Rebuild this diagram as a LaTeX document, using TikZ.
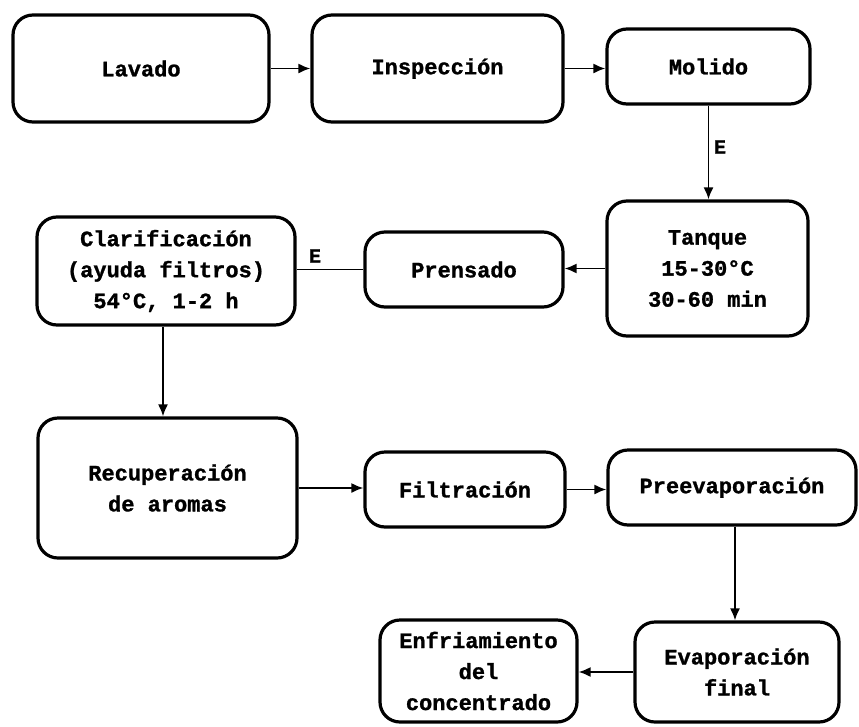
\documentclass[tikz,border=0pt]{standalone}
\usepackage{fontspec}
\setmonofont[BoldFeatures={FakeBold=1.2}]{Liberation Mono}
\usetikzlibrary{arrows.meta}
\begin{document}
\begin{tikzpicture}[x=1pt,y=-1pt,
  stage/.style={draw, line width=3.2pt, rounded corners=20pt, inner sep=0pt,
    align=center, font=\ttfamily\bfseries\fontsize{22}{31}\selectfont},
  flow/.style={line width=1.8pt, -{Latex[length=12pt,width=10pt]}},
  link/.style={line width=1.8pt},
  tag/.style={font=\ttfamily\bfseries\fontsize{20}{24}\selectfont, inner sep=0pt}]
\useasboundingbox (0,0) rectangle (859,726);

% process stages
\node[stage, minimum width=256pt, minimum height=107pt] (lav)  at (141,68.5)   {Lavado};
\node[stage, minimum width=251pt, minimum height=107pt] (insp) at (437.5,68.5) {Inspección};
\node[stage, minimum width=203pt, minimum height=75pt]  (mol)  at (708.5,66.5) {Molido};
\node[stage, minimum width=201pt, minimum height=135pt] (tan)  at (707.5,268.5) {Tanque\\15-30°C\\30-60 min};
\node[stage, minimum width=198pt, minimum height=75pt]  (pren) at (464,269.5)  {Prensado};
\node[stage, minimum width=258pt, minimum height=108pt] (clar) at (166,271)    {Clarificación\\(ayuda filtros)\\54°C, 1-2 h};
\node[stage, minimum width=259pt, minimum height=140pt] (rec)  at (167.5,488)  {Recuperación\\de aromas};
\node[stage, minimum width=200pt, minimum height=75pt]  (fil)  at (465,489.5)  {Filtración};
\node[stage, minimum width=248pt, minimum height=75pt]  (pre)  at (732,487.5)  {Preevaporación};
\node[stage, minimum width=204pt, minimum height=100pt] (eva)  at (737,672)    {Evaporación\\final};
\node[stage, minimum width=197pt, minimum height=102pt] (enf)  at (478.5,671)  {Enfriamiento\\del\\concentrado};

% connectors
\draw[flow] (lav.east) -- (insp.west);
\draw[flow] (insp.east) -- (insp.east -| mol.west);
\draw[flow] (mol.south) -- (mol.south |- tan.north);
\draw[flow] (tan.west) -- (tan.west -| pren.east);
\draw[link] (pren.west) -- (pren.west -| clar.east);
\draw[flow] ([xshift=-3pt]clar.south) -- ([xshift=-3pt]clar.south |- rec.north);
\draw[flow] (rec.east) -- (rec.east -| fil.west);
\draw[flow] (fil.east) -- (fil.east -| pre.west);
\draw[flow] ([xshift=3pt]pre.south) -- ([xshift=3pt]pre.south |- eva.north);
\draw[flow] (eva.west) -- (eva.west -| enf.east);

% connector labels
\node[tag] (e1) at (720,147) {E};
\node[tag] (e2) at (315,256) {E};
\end{tikzpicture}
\end{document}
